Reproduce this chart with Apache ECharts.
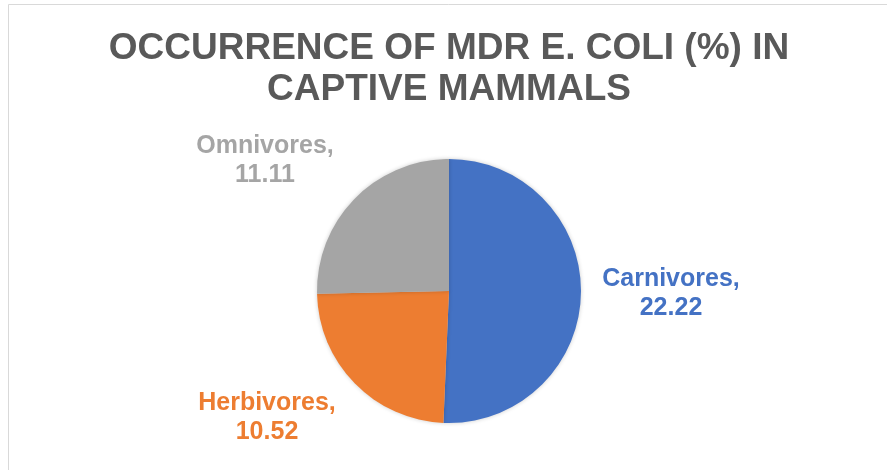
<!DOCTYPE html>
<html>
<head>
<meta charset="utf-8">
<script src="https://cdn.jsdelivr.net/npm/echarts@6/dist/echarts.min.js"></script>
<style>
html,body{margin:0;padding:0;background:#fff;}
#chart{width:887px;height:470px;}
</style>
</head>
<body>
<div id="chart"></div>
<script>
const titleText = 'OCCURRENCE OF MDR E. COLI (%) IN\nCAPTIVE MAMMALS';
const categories = ['Carnivores', 'Herbivores', 'Omnivores'];
const values = [22.22, 10.52, 11.11];
const colors = ['#4472C4', '#ED7D31', '#A5A5A5'];
const labelPos = [[671, 294], [267, 418], [265, 161]];

const chart = echarts.init(document.getElementById('chart'), null, {renderer: 'canvas'});
chart.setOption({
  backgroundColor: '#ffffff',
  animation: false,
  title: {
    text: titleText,
    left: 444,
    top: 23,
    textAlign: 'center',
    textStyle: {
      fontFamily: 'Liberation Sans, Arial, sans-serif',
      fontWeight: 'bold',
      fontSize: 37,
      lineHeight: 41,
      color: '#595959'
    }
  },
  graphic: [{
    type: 'rect',
    shape: {x: 8.5, y: 4.5, width: 1000, height: 1000},
    style: {fill: 'none', stroke: '#d9d9d9', lineWidth: 1},
    silent: true,
    z: -1
  }],
  series: [{
    type: 'pie',
    center: [449, 291],
    radius: 132,
    startAngle: 90,
    clockwise: true,
    data: categories.map((c, i) => ({
      name: c,
      value: values[i],
      itemStyle: {color: colors[i]},
      label: {color: colors[i]}
    })),
    itemStyle: {borderWidth: 0, shadowBlur: 4, shadowColor: 'rgba(0,0,0,0.2)'},
    label: {
      show: true,
      formatter: p => p.name + ',\n' + p.value.toFixed(2),
      fontFamily: 'Liberation Sans, Arial, sans-serif',
      fontWeight: 'bold',
      fontSize: 25,
      lineHeight: 29,
      align: 'center'
    },
    labelLine: {show: false},
    labelLayout: function (params) {
      const p = labelPos[params.dataIndex];
      return {x: p[0], y: p[1], align: 'center', verticalAlign: 'middle'};
    }
  }]
});
</script>
</body>
</html>
